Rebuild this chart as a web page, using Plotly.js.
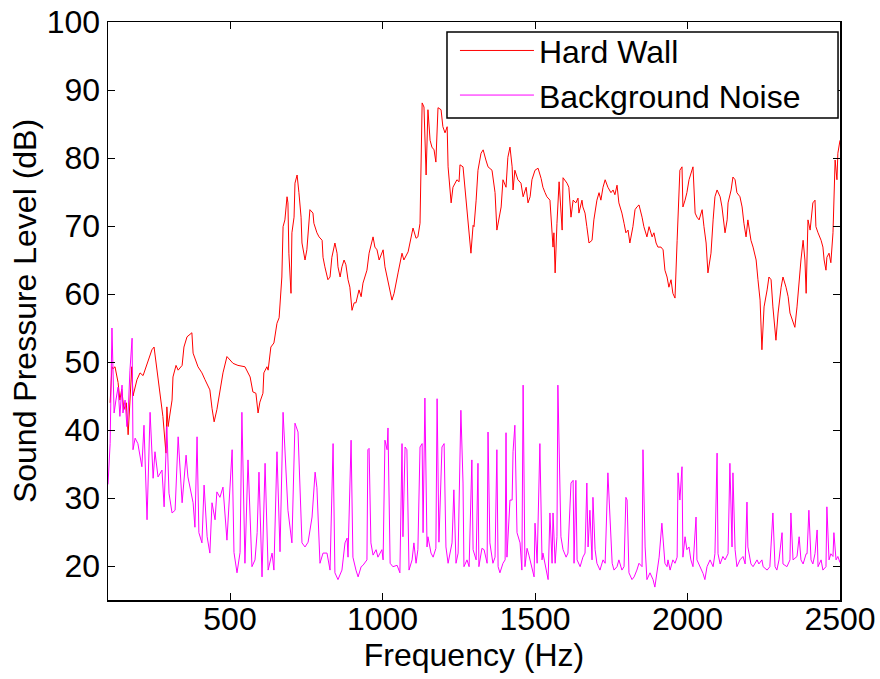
<!DOCTYPE html>
<html>
<head>
<meta charset="utf-8">
<script src="https://cdn.plot.ly/plotly-3.0.1.min.js"></script>
<style>
  html, body { margin: 0; padding: 0; background: #fff; }
  #chart { width: 880px; height: 679px; }
</style>
</head>
<body>
<div id="chart"></div>
<script>
// Hard Wall series: frequency (Hz) and level (dB)
var hardWallFreq = [107,113,116,123,133,139,145,152,160,166,178,182,195,205,215,228,244,251,261,270,280,290,293,297,310,313,323,330,343,349,359,375,379,395,408,418,434,441,448,457,467,477,490,500,510,526,549,566,575,585,592,598,608,611,621,625,634,644,654,661,670,674,680,687,690,693,700,703,710,713,720,726,733,736,746,752,759,762,772,775,785,792,802,805,811,821,828,834,844,851,854,861,867,874,880,887,893,900,907,913,923,930,936,949,956,966,969,975,982,989,998,1002,1008,1015,1021,1031,1038,1044,1051,1064,1070,1084,1090,1100,1110,1116,1123,1130,1136,1143,1149,1156,1162,1169,1175,1182,1192,1198,1205,1212,1215,1225,1231,1244,1251,1254,1264,1271,1277,1284,1290,1297,1300,1307,1313,1323,1330,1339,1346,1359,1369,1375,1382,1389,1395,1405,1411,1418,1425,1428,1434,1444,1454,1461,1471,1477,1484,1490,1500,1510,1520,1526,1533,1539,1549,1559,1562,1566,1572,1579,1589,1592,1605,1611,1618,1625,1634,1641,1644,1654,1657,1664,1670,1677,1687,1693,1703,1710,1716,1723,1730,1739,1749,1756,1762,1769,1775,1785,1792,1798,1805,1811,1821,1828,1834,1841,1851,1857,1867,1874,1884,1890,1897,1903,1913,1920,1926,1933,1939,1946,1952,1959,1966,1969,1975,1982,1985,1992,1998,2005,2018,2025,2031,2038,2048,2054,2061,2067,2077,2084,2090,2097,2107,2113,2123,2130,2133,2143,2149,2156,2162,2172,2179,2185,2192,2198,2208,2215,2225,2231,2238,2244,2251,2261,2267,2274,2280,2290,2297,2307,2313,2323,2330,2336,2346,2352,2359,2366,2372,2379,2385,2389,2392,2395,2402,2408,2411,2418,2421,2428,2438,2444,2448,2454,2457,2464,2470,2477,2480,2484,2490,2493,2500];
var hardWallDb = [44,49.3,49,49.3,47,44.4,46,43,44,39.3,49.3,45,47.4,48.4,48,49.8,51.8,52.2,48.4,45.9,42,36.6,43.4,40.5,44.4,47.8,49.5,48.8,49.5,52.2,53.7,54.3,51.3,49.3,48.4,47.4,45.9,43.2,41.2,43,45.9,48.4,50.8,50.3,49.8,49.5,49.3,47.8,45.6,45.4,42.5,44.1,45.4,48.4,49.3,48.8,52.2,52.8,55.7,56.5,62.5,69.9,70.9,74.3,73.4,66,60.1,69,71.3,76.3,77.5,74.9,71.3,67.5,65,66.5,70.9,72.4,71.9,70.4,69,68.4,67.9,65.4,64,62.1,62.5,65.4,67.5,66,64,62.5,64,65,64.3,62.1,61,57.6,58.7,58.7,60.6,59.6,61.6,63.5,66,67.9,68.4,66.9,66.5,65,66,66.5,64,62.5,61.6,59.1,60.1,61.3,63.1,66,65,66.2,67.6,69.7,68.2,68.4,70.4,88.1,87.5,77.5,87.1,82.6,81.6,81.2,79.4,87.4,87.1,84.6,83.7,84.6,78.7,73.4,75.7,76.8,76.5,79,78.7,75.3,71.9,68.4,66,70.1,69.9,73.8,78.2,80.7,81.2,79.7,78.7,78.2,74.9,69.4,71.3,72.8,76.8,75.7,80.1,81.6,78.7,75.3,78.2,76.8,76.3,74.3,75.7,73.4,74.3,76.8,78.2,78.5,77,75.7,74.9,74.3,73.8,66.9,69,63.1,70.4,76.5,69.4,77.1,76.3,75.7,71.3,73.8,73.4,74.1,71.9,73.8,72.8,71.9,69.9,67.5,67.9,70.9,73.8,74.9,73.8,75.7,76.8,75.7,74.9,75.3,74.6,76,73.4,71.9,70.4,69,69.4,67.5,69.9,72.4,72.8,73.1,71.3,69.9,68.4,69.9,68.4,69,67.5,66.9,66.9,66.5,63.5,62.5,61,62.1,60.1,59.4,67.9,71.9,78.2,78.7,72.8,73.8,74.9,76.8,78.7,71.9,71.3,70.9,72.4,69.9,67.5,63.1,66,70.9,74.3,75.3,74.3,72.8,69,70.9,73.4,75.3,77.2,76.8,74.9,74.3,72.8,70.4,68.4,70.9,67.9,66.9,65,62.1,59.1,51.8,58.1,60.6,62.5,62.1,58.1,53.2,57.2,61,62.5,61,59.6,57.2,55.7,55.1,58.1,62.1,65,67.9,65,60.1,66.9,70.9,69.4,72.8,73.4,73.8,69.9,69,67.9,66.9,65,63.5,65.4,66,64.6,69,75.3,79.7,76.8,80.7,82.6];

// Background Noise series: frequency (Hz) and level (dB)
var noiseFreq = [100,107,113,120,126,133,139,146,149,156,162,166,172,179,182,189,198,205,211,218,228,238,248,254,264,277,284,293,300,310,320,330,343,356,362,379,385,392,398,408,415,425,434,441,451,457,467,477,490,507,513,523,533,539,549,559,572,582,589,595,605,615,625,638,644,654,664,674,680,690,703,713,723,736,746,756,769,779,785,795,805,818,828,838,844,854,867,877,884,887,897,903,913,920,930,936,949,952,956,962,969,979,985,998,1002,1008,1015,1018,1025,1034,1048,1057,1064,1067,1074,1080,1087,1097,1103,1110,1116,1123,1130,1133,1139,1146,1149,1159,1166,1175,1179,1185,1195,1202,1208,1215,1228,1234,1241,1248,1257,1264,1267,1277,1284,1293,1297,1307,1313,1316,1326,1333,1343,1346,1352,1362,1369,1375,1379,1385,1395,1402,1405,1408,1418,1425,1428,1434,1441,1451,1457,1461,1467,1474,1480,1490,1497,1500,1507,1516,1523,1526,1536,1543,1549,1556,1559,1566,1572,1575,1585,1592,1602,1608,1618,1625,1628,1634,1638,1648,1657,1664,1670,1674,1680,1687,1690,1697,1703,1713,1723,1730,1739,1746,1753,1759,1769,1775,1785,1792,1798,1802,1808,1818,1825,1834,1841,1851,1854,1861,1867,1877,1887,1893,1900,1907,1916,1920,1926,1933,1936,1943,1952,1959,1966,1969,1975,1982,1985,1992,1998,2005,2011,2018,2028,2031,2041,2051,2057,2064,2074,2084,2090,2097,2100,2107,2116,2123,2133,2139,2146,2149,2156,2162,2172,2182,2189,2195,2198,2208,2215,2228,2234,2244,2248,2261,2270,2280,2287,2293,2300,2310,2313,2326,2336,2339,2346,2359,2366,2372,2379,2389,2392,2398,2405,2411,2418,2425,2428,2438,2444,2454,2457,2464,2470,2477,2480,2487,2493,2500];
var noiseDb = [32,38,55,42.5,44.4,46.3,42,46.6,42.5,44.4,40.5,42.5,48.8,53.5,37.1,38.8,38,36,34.6,40.7,26.8,42.6,32.9,36.8,33.1,34.1,28.7,40.5,30.7,27.8,28.2,39,29.3,36.3,33.1,29.3,25.7,39,24.9,23.4,31.9,24.3,21.9,29.3,26.8,30.9,30.1,31.6,23.8,37.1,22,19,22,42.6,20.4,35.6,19.9,20.9,24.9,33.8,18.4,35.1,19.4,21.9,19.4,36.8,22.1,42.6,37.5,28.2,23.4,41,39.7,23.4,22.8,23.5,27.2,33.8,31.5,20.4,21.9,21.9,19.4,38,19,18,19.4,23.4,24.1,21.3,38.5,21.3,19.4,18.4,19.9,20.1,20.9,37.1,37.3,23.4,21.6,22.4,21.3,22.4,20.9,38.5,37.1,40.3,20.4,19.9,20.1,19,38,24.3,37.5,37.1,19.4,20.9,23.4,20.4,22.4,37.5,38,24.9,44.7,22.8,24.3,21.9,21.3,22.6,44.6,23.5,37.5,38,22.8,20.4,23.4,31.2,20.4,21.9,42.9,32.2,19.9,20.9,19.9,35.6,22.4,20.9,35.1,19.9,22.6,22.4,20.4,39.7,23.4,20.4,21.3,37.1,19.9,19,20.4,20.9,39.6,21.3,29.7,29.7,36.8,40.7,24.9,23.4,19.4,46.6,19.9,22.6,21.6,19.4,18.4,26.3,20.4,38,20.9,21.9,19.4,18,27.8,20.4,27.8,20.4,24.3,46.6,24.3,22.4,21.3,21.9,32.2,32.6,20.4,32.6,20.9,19.9,21.3,21.9,32.2,22.8,28.2,20.9,30.1,22.4,20.4,19.4,20.9,20.4,33.7,27.8,20.4,19.4,19.9,20.9,19.4,19.9,30.1,29.7,19,18,18.4,19.4,20.4,19.9,37.1,22.8,18,19,18,16.9,19,21.3,26.3,24.3,20.4,19.9,20.9,19.4,20.9,20.4,21.3,33.7,29.7,34.6,21.3,24.3,22.4,22.8,20.9,19.9,27.2,20.9,19.9,18.9,18,19.9,20.9,19.9,21.8,36.6,21.8,20.3,21.4,20.9,21.8,35.1,22.8,33.7,22.4,19.9,20.9,21.4,20.3,29.4,22.8,20.3,19.9,20.9,20.3,20.9,19.9,19.4,19.9,27.8,19.9,19.4,20.9,24.9,20.3,19.9,20.9,27.8,20.9,21.4,24.3,20.9,20.3,21.8,21.8,28.2,20.9,20.3,21.8,25.3,19.9,20.9,19.4,19.9,28.7,20.9,21.8,21.4,24.9,20.9,21.4,20.5];

var fontFamily = 'Arial, "Liberation Sans", Helvetica, sans-serif';
var axisFont = {family: fontFamily, size: 32, color: '#000'};

var traces = [
  {x: hardWallFreq, y: hardWallDb, type: 'scatter', mode: 'lines', name: 'Hard Wall',
   line: {color: '#ff0000', width: 1}},
  {x: noiseFreq, y: noiseDb, type: 'scatter', mode: 'lines', name: 'Background Noise',
   line: {color: '#ff00ff', width: 1}}
];

var layout = {
  width: 880, height: 679,
  margin: {l: 108, r: 40, t: 22, b: 79},
  paper_bgcolor: '#fff', plot_bgcolor: '#fff',
  font: axisFont,
  showlegend: true,
  xaxis: {
    range: [100, 2500],
    tickvals: [500, 1000, 1500, 2000, 2500],
    ticktext: ['500', '1000', '1500', '2000', '2500'],
    ticks: 'inside', ticklen: 7, tickwidth: 1, tickcolor: '#000',
    showline: true, linecolor: '#000', linewidth: 1.5, mirror: 'ticks',
    showgrid: false, zeroline: false,
    tickfont: axisFont,
    ticklabelstandoff: -10,
    title: {text: 'Frequency (Hz)', font: axisFont, standoff: 4}
  },
  yaxis: {
    range: [15, 100],
    tickvals: [20, 30, 40, 50, 60, 70, 80, 90, 100],
    ticks: 'inside', ticklen: 7, tickwidth: 1, tickcolor: '#000',
    showline: true, linecolor: '#000', linewidth: 1.5, mirror: 'ticks',
    showgrid: false, zeroline: false,
    tickfont: axisFont,
    title: {text: 'Sound Pressure Level (dB)', font: axisFont, standoff: 0}
  },
  shapes: [{
    type: 'rect', xref: 'paper', yref: 'paper', layer: 'above',
    x0: 0.4631, x1: 0.9973, y0: 0.834, y1: 0.9827,
    line: {color: '#000', width: 1.5}, fillcolor: '#fff'
  }],
  legend: {
    x: 0.474, y: 0.998, xanchor: 'left', yanchor: 'top',
    bgcolor: 'rgba(0,0,0,0)', borderwidth: 0,
    font: {family: fontFamily, size: 32, color: '#000'},
    itemwidth: 74
  }
};

Plotly.newPlot('chart', traces, layout, {displayModeBar: false, staticPlot: true});
</script>
</body>
</html>
